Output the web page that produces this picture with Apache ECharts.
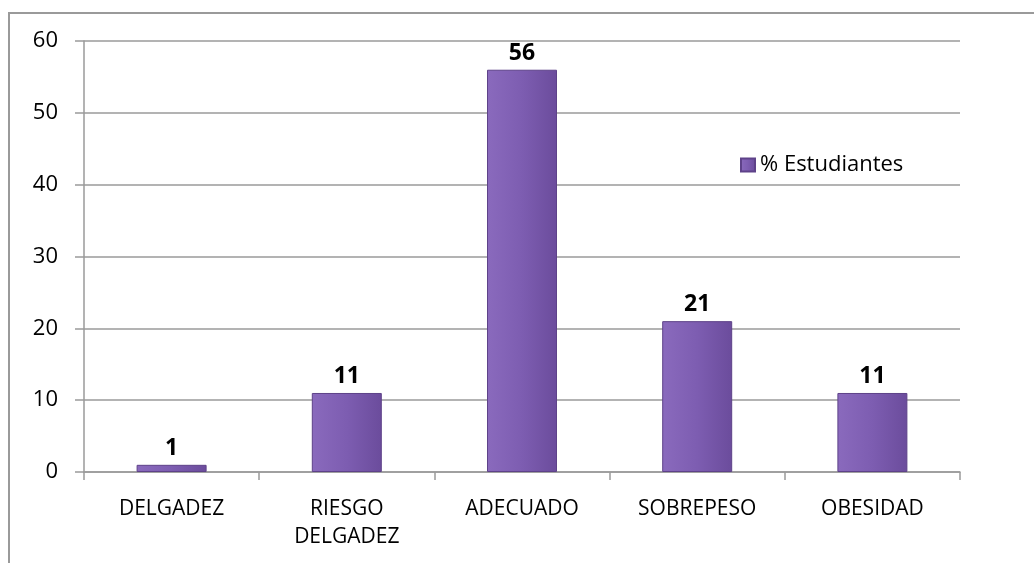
<!DOCTYPE html>
<html>
<head>
<meta charset="utf-8">
<script src="https://cdn.jsdelivr.net/npm/echarts@6/dist/echarts.min.js"></script>
<style>
html,body{margin:0;padding:0;background:#fff;}
#frame{position:absolute;left:8px;top:12px;width:1026px;height:551px;border-top:2px solid #9a9a9a;border-left:2px solid #9a9a9a;box-sizing:border-box;}
#chart{position:absolute;left:0;top:0;width:1034px;height:563px;}
</style>
</head>
<body>
<div id="frame"></div>
<div id="chart"></div>
<script>
var categories = ['DELGADEZ', 'RIESGO\nDELGADEZ', 'ADECUADO', 'SOBREPESO', 'OBESIDAD'];
var values = [1, 11, 56, 21, 11];
var seriesName = '% Estudiantes';

var FONT = 'Open Sans, Liberation Sans, Arial, sans-serif';
var chart = echarts.init(document.getElementById('chart'));
var barColor = new echarts.graphic.LinearGradient(0, 0, 1, 0, [
  {offset: 0, color: '#8a6abd'},
  {offset: 0.5, color: '#7d5db1'},
  {offset: 1, color: '#6b4c9c'}
]);
chart.setOption({
  animation: false,
  textStyle: {fontFamily: FONT},
  grid: {left: 84, right: 74, top: 41, bottom: 91, containLabel: false},
  legend: {
    data: [seriesName],
    left: 735, top: 149,
    itemWidth: 14, itemHeight: 13, itemGap: 7,
    icon: 'rect',
    textStyle: {fontSize: 22, color: '#000', fontFamily: FONT}
  },
  xAxis: {
    type: 'category',
    data: categories,
    axisLine: {lineStyle: {color: '#9a9a9a', width: 1.5}},
    axisTick: {show: true, length: 8, alignWithLabel: false, lineStyle: {color: '#9a9a9a', width: 1.5}},
    axisLabel: {fontSize: 21, color: '#000', margin: 23, lineHeight: 28, interval: 0, fontFamily: FONT}
  },
  yAxis: {
    type: 'value',
    min: 0, max: 60, interval: 10,
    axisLine: {show: true, lineStyle: {color: '#9a9a9a', width: 1.5}},
    axisTick: {show: true, length: 9, lineStyle: {color: '#9a9a9a', width: 1.5}},
    splitLine: {lineStyle: {color: '#9a9a9a', width: 1.5}},
    axisLabel: {fontSize: 22, color: '#000', margin: 26, fontFamily: FONT}
  },
  series: [{
    name: seriesName,
    type: 'bar',
    data: values,
    barWidth: 70,
    itemStyle: {color: barColor, borderColor: '#5e4289', borderWidth: 1},
    label: {show: true, position: 'top', distance: 5, fontSize: 23, fontWeight: 'bold', color: '#000', fontFamily: FONT}
  }]
});
</script>
</body>
</html>
